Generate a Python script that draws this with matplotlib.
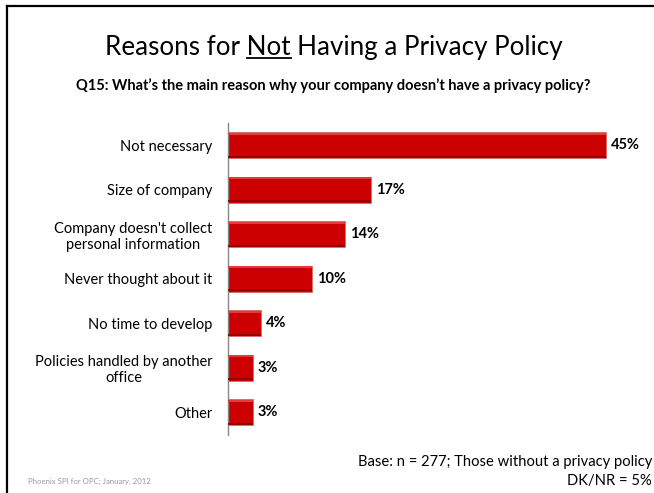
import matplotlib
matplotlib.use("Agg")
import matplotlib.pyplot as plt
from matplotlib.lines import Line2D

plt.rcParams['font.family'] = ['Lato', 'DejaVu Sans']

reasons = [
    "Not necessary",
    "Size of company",
    "Company doesn't collect\npersonal information",
    "Never thought about it",
    "No time to develop",
    "Policies handled by another\noffice",
    "Other",
]
shares = [45, 17, 14, 10, 4, 3, 3]

title = "Reasons for Not Having a Privacy Policy"
question = "Q15: What\u2019s the main reason why your company doesn\u2019t have a privacy policy?"
base_note = "Base: n = 277; Those without a privacy policy"
dknr_note = "DK/NR = 5%"
source_note = "Phoenix SPI for OPC; January, 2012"

W, H = 654, 493
fig = plt.figure(figsize=(W / 100, H / 100), dpi=100)

# slide frame: top and left rules
fig.add_artist(Line2D([7 / W, 1], [1 - 5.5 / H, 1 - 5.5 / H], color='black', lw=1.6))
fig.add_artist(Line2D([7 / W, 7 / W], [0, 1 - 5.5 / H], color='black', lw=1.6))

ax = fig.add_axes([227.5 / W, 58.5 / H, 412.5 / W, 311.5 / H])
ypos = list(range(len(reasons)))
bh = 0.58
ax.barh(ypos, shares, height=bh, color='#CC0000', edgecolor='#DA6A6A', linewidth=0.6, zorder=2)
# shading strips for the bevelled look
ax.barh([y - bh / 2 + 0.03 for y in ypos], shares, height=0.05, color='#E43C3C', linewidth=0, zorder=3)
ax.barh([y + bh / 2 - 0.03 for y in ypos], shares, height=0.05, color='#940606', linewidth=0, zorder=3)

for y, v in zip(ypos, shares):
    ax.text(v + 0.6, y, f"{v}%", va='center', ha='left', fontsize=10.5, fontweight='bold', color='black')

ax.set_xlim(0, 49)
ax.set_ylim(len(reasons) - 0.5, -0.5)
ax.set_yticks(ypos)
ax.set_yticklabels(reasons, fontsize=10.5, multialignment='center')
ax.tick_params(axis='y', length=0, pad=11)
ax.set_xticks([])
for side in ['top', 'right', 'bottom']:
    ax.spines[side].set_visible(False)
ax.spines['left'].set_color('#888888')
ax.spines['left'].set_linewidth(1.0)

# title with "Not" underlined
title_fs = 18.7
t = fig.text(334 / W, 1 - 55 / H, title, ha='center', va='baseline', fontsize=title_fs)
fig.canvas.draw()
r = fig.canvas.get_renderer()

def text_width(s):
    tmp = fig.text(0, 0, s, fontsize=title_fs)
    w = tmp.get_window_extent(r).width
    tmp.remove()
    return w

bb = t.get_window_extent(r)
x0 = bb.x0 + text_width("Reasons for N") - text_width("N")
x1 = bb.x0 + text_width("Reasons for Not")
uy = H - 58
fig.add_artist(Line2D([x0 / W, x1 / W], [uy / H, uy / H], color='black', lw=1.3))

fig.text(333 / W, 1 - 90 / H, question, ha='center', va='baseline', fontsize=10.5, fontweight='bold')
fig.text(652 / W, 1 - 462 / H, base_note, ha='right', va='center', fontsize=10.6)
fig.text(652 / W, 1 - 481 / H, dknr_note, ha='right', va='center', fontsize=10.6)
fig.text(28 / W, 1 - 481 / H, source_note, ha='left', va='center', fontsize=5.6, color='#999999')

fig.savefig("out.png", dpi=100)
